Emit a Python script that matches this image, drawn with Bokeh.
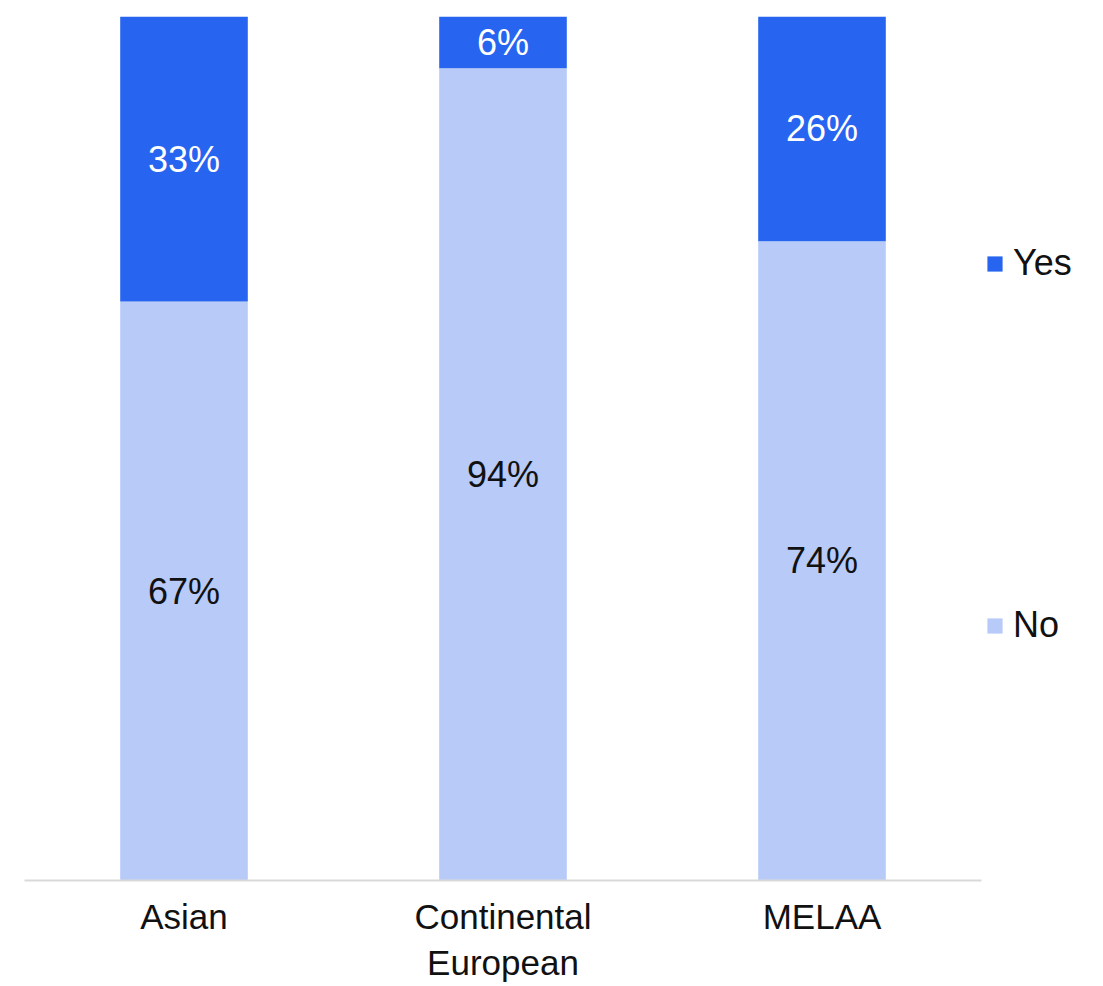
from bokeh.plotting import figure
from bokeh.models import Range1d, ColumnDataSource, Legend, LegendItem
from bokeh.core.properties import value
from bokeh.embed import file_html
from bokeh.resources import INLINE

categories = ["Asian", "Continental European", "MELAA"]
no_vals = [67, 94, 74]
yes_vals = [33, 6, 26]
series = ["No", "Yes"]
colors = {"No": "#B7CAF8", "Yes": "#2764F0"}
FONT = "Liberation Sans"

factors = [c.replace(" ", "\n") for c in categories]
src = ColumnDataSource(dict(cat=factors, No=no_vals, Yes=yes_vals))

p = figure(x_range=factors, y_range=Range1d(0, 100),
           frame_width=957, frame_height=864,
           output_backend="svg", toolbar_location=None,
           min_border_left=24, min_border_right=0, min_border_top=16, min_border_bottom=106)

rs = p.vbar_stack(series, x="cat", width=0.4, source=src,
                  color=[colors[s] for s in series], line_color=None)

no_y = [v / 2 for v in no_vals]
yes_y = [n + y / 2 for n, y in zip(no_vals, yes_vals)]
lab = ColumnDataSource(dict(
    x=factors + factors,
    y=no_y + yes_y,
    t=[f"{v}%" for v in no_vals] + [f"{v}%" for v in yes_vals],
    c=["#111111"] * 3 + ["#ffffff"] * 3,
))
p.text(x="x", y="y", text="t", text_color="c", source=lab,
       text_align="center", text_baseline="middle",
       text_font=value(FONT), text_font_size="36px")

legend = Legend(items=[LegendItem(label="Yes", renderers=[rs[1]]),
                       LegendItem(label="No", renderers=[rs[0]])],
                location=(4, 234), orientation="vertical",
                glyph_width=19, glyph_height=19, label_standoff=9,
                label_text_font=FONT, label_text_font_size="36px",
                label_text_color="#111111",
                spacing=320, padding=0, margin=0,
                border_line_color=None, background_fill_alpha=0)
p.add_layout(legend, "right")

p.xgrid.visible = False
p.ygrid.visible = False
p.yaxis.visible = False
p.outline_line_color = None
ax = p.xaxis[0]
ax.axis_line_color = "#D9D9D9"
ax.axis_line_width = 2
ax.major_tick_line_color = None
ax.minor_tick_line_color = None
ax.major_label_standoff = 10
ax.major_label_text_font = FONT
ax.major_label_text_font_size = "35px"
ax.major_label_text_color = "#111111"
p.x_range.range_padding = 0

open("out.html", "w").write(file_html(p, INLINE))
